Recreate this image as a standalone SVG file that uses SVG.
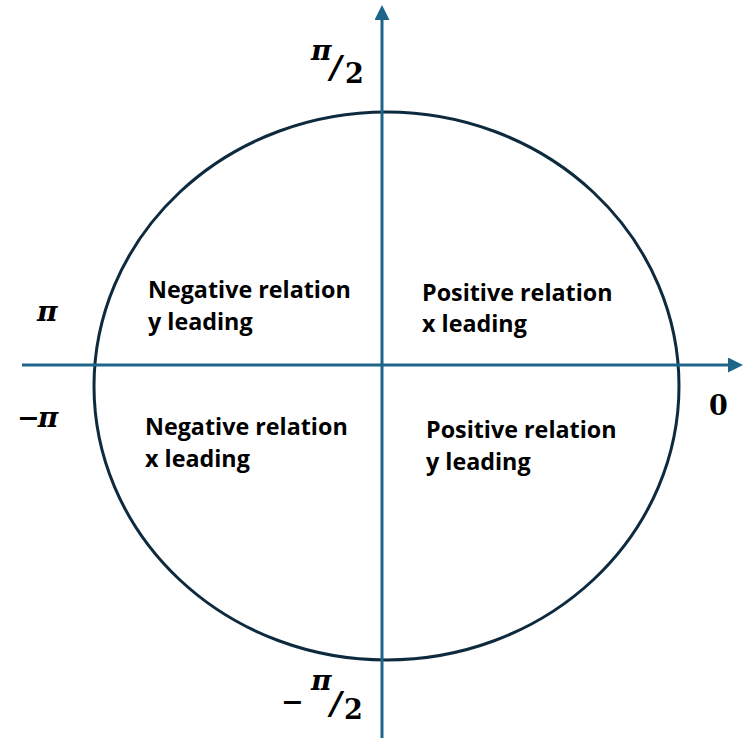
<svg xmlns="http://www.w3.org/2000/svg" width="743" height="738" viewBox="0 0 743 738">
<style>
.lbl{font-family:"Open Sans","Liberation Sans",sans-serif;font-weight:bold;font-size:23.3px;fill:#000}
.math{font-family:"DejaVu Serif","Liberation Serif",serif;font-weight:bold;fill:#000}
.pi{font-size:28px;font-style:italic}
.num{font-size:27px}
.sl{font-size:32px;font-style:italic}
.axis{stroke:#1d6689;stroke-width:3;fill:none}
</style>
<defs>
<marker id="ah" markerWidth="5" markerHeight="5" refX="0" refY="2.5" orient="auto" markerUnits="strokeWidth">
<path d="M0,0 L5,2.5 L0,5 Z" fill="#1d6689"/>
</marker>
</defs>
<rect width="743" height="738" fill="#fff"/>
<g id="circle">
<ellipse cx="386.5" cy="386" rx="292.5" ry="274" fill="none" stroke="#0d2a3e" stroke-width="3"/>
</g>
<g id="connectors">
<line class="axis" x1="22" y1="365" x2="728" y2="365" marker-end="url(#ah)"/>
<line class="axis" x1="382" y1="738" x2="382" y2="20" marker-end="url(#ah)"/>
</g>
<g id="q1">
<text class="lbl" x="422" y="301">Positive relation</text>
<text class="lbl" x="422" y="332">x leading</text>
</g>
<g id="q2">
<text class="lbl" x="148" y="298">Negative relation</text>
<text class="lbl" x="148" y="330">y leading</text>
</g>
<g id="q3">
<text class="lbl" x="145" y="435">Negative relation</text>
<text class="lbl" x="145" y="467">x leading</text>
</g>
<g id="q4">
<text class="lbl" x="426" y="438">Positive relation</text>
<text class="lbl" x="426" y="470">y leading</text>
</g>
<g id="labels">
<text class="math pi" x="311" y="60">π</text>
<text class="math sl" x="330" y="78">/</text>
<text class="math num" x="345" y="83">2</text>
<text class="math pi" x="37" y="321">π</text>
<text class="math" x="17" y="427"><tspan class="num">−</tspan><tspan class="pi" dx="-2">π</tspan></text>
<text class="math num" x="709" y="415">0</text>
<text class="math num" x="281" y="711">−</text>
<text class="math pi" x="311" y="690">π</text>
<text class="math sl" x="330" y="714">/</text>
<text class="math num" x="344" y="719">2</text>
</g>
</svg>
